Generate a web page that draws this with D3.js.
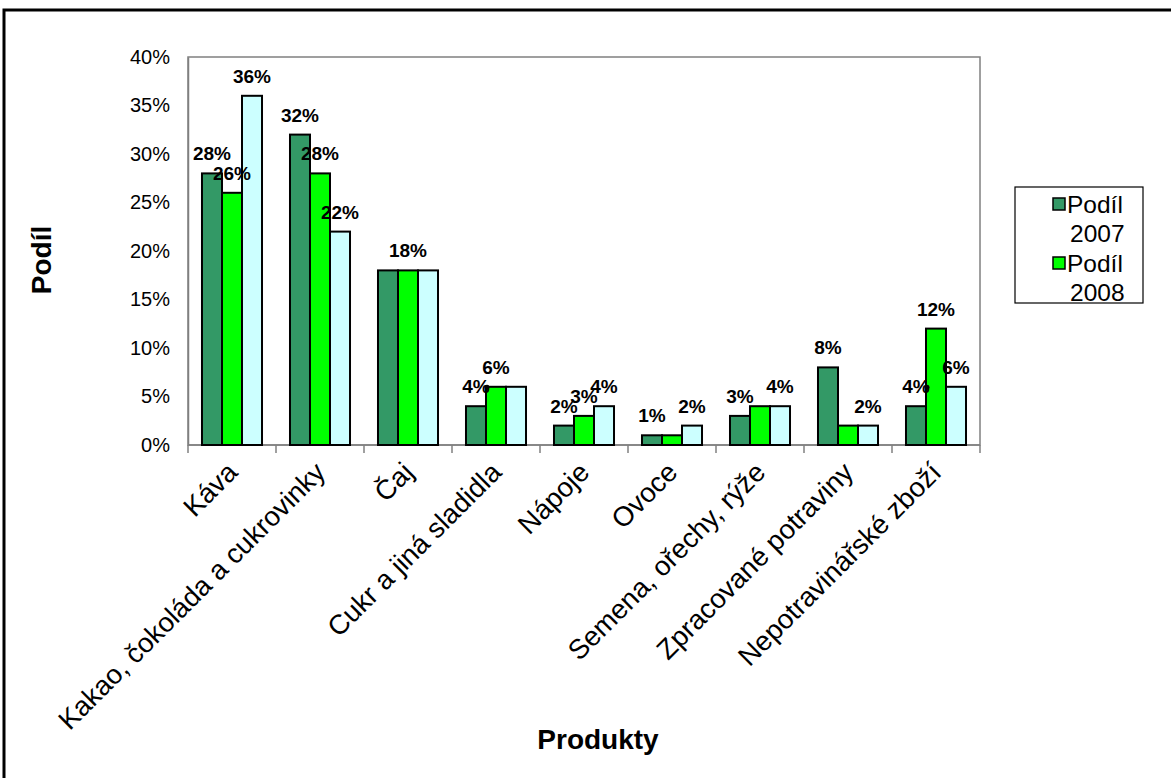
<!DOCTYPE html>
<html>
<head>
<meta charset="utf-8">
<script src="https://cdn.jsdelivr.net/npm/d3@7"></script>
<style>
  html, body { margin: 0; padding: 0; background: #fff; }
  svg { display: block; }
  text { font-family: "Liberation Sans", Arial, sans-serif; fill: #000; }
</style>
</head>
<body>
<svg id="chart" width="1171" height="778"></svg>
<script>
// Product categories
const categories = [
  "Káva",
  "Kakao, čokoláda a cukrovinky",
  "Čaj",
  "Cukr a jiná sladidla",
  "Nápoje",
  "Ovoce",
  "Semena, ořechy, rýže",
  "Zpracované potraviny",
  "Nepotravinářské zboží"
];

// Shares per series
const share2007 = [0.28, 0.32, 0.18, 0.04, 0.02, 0.01, 0.03, 0.08, 0.04];
const share2008 = [0.26, 0.28, 0.18, 0.06, 0.03, 0.01, 0.04, 0.02, 0.12];
const share3    = [0.36, 0.22, 0.18, 0.06, 0.04, 0.02, 0.04, 0.02, 0.06];

// Which bars carry a value label (1 = shown)
const labels2007 = [1, 1, 0, 1, 1, 1, 1, 1, 1];
const labels2008 = [1, 1, 1, 1, 1, 0, 0, 0, 1];
const labels3    = [1, 1, 0, 0, 1, 1, 1, 1, 1];

// Labels that carry a small leader dot on their right side
const dots2007 = [0, 0, 0, 1, 0, 0, 0, 0, 1];
const dots2008 = [0, 0, 0, 0, 0, 0, 0, 0, 0];
const dots3    = [0, 0, 0, 0, 0, 0, 0, 0, 0];

const seriesColors = ["#339966", "#00ff00", "#ccffff"];
const legendNames = [["Podíl", "2007"], ["Podíl", "2008"]];

const yTicks = [0, 0.05, 0.10, 0.15, 0.20, 0.25, 0.30, 0.35, 0.40];

const series = [
  { values: share2007, labels: labels2007, dots: dots2007, color: seriesColors[0] },
  { values: share2008, labels: labels2008, dots: dots2008, color: seriesColors[1] },
  { values: share3,    labels: labels3,    dots: dots3,    color: seriesColors[2] }
];

const svg = d3.select("#chart");

// Outer chart frame
svg.append("rect")
  .attr("x", 4).attr("y", 10)
  .attr("width", 1300).attr("height", 900)
  .attr("fill", "#fff")
  .attr("stroke", "#000").attr("stroke-width", 3);

const plot = { left: 188, right: 980, top: 57, bottom: 445 };

const x0 = d3.scaleBand()
  .domain(categories)
  .range([plot.left, plot.right])
  .paddingInner(0.318)
  .paddingOuter(0.159);

const xCat = d3.scaleBand()
  .domain(categories)
  .range([plot.left, plot.right]);

const x1 = d3.scaleBand()
  .domain(d3.range(series.length))
  .range([0, x0.bandwidth()]);

const y = d3.scaleLinear().domain([0, 0.40]).range([plot.bottom, plot.top]);

// Plot area outline
svg.append("rect")
  .attr("x", plot.left).attr("y", plot.top)
  .attr("width", plot.right - plot.left)
  .attr("height", plot.bottom - plot.top)
  .attr("fill", "#fff")
  .attr("stroke", "#808080").attr("stroke-width", 1.5);

// Y axis
const yAxis = d3.axisLeft(y)
  .tickValues(yTicks)
  .tickFormat(d3.format(".0%"))
  .tickSize(0)
  .tickPadding(18);

const gy = svg.append("g")
  .attr("transform", `translate(${plot.left},0)`)
  .call(yAxis);
gy.select(".domain").attr("stroke", "#808080").attr("stroke-width", 1.5);
gy.selectAll("text")
  .attr("font-size", 20)
  .attr("font-family", "Liberation Sans, Arial, sans-serif")
  .attr("fill", "#000");

// X axis with ticks at category boundaries
const gx = svg.append("g")
  .attr("transform", `translate(0,${plot.bottom})`);
gx.append("line")
  .attr("x1", plot.left).attr("x2", plot.right)
  .attr("stroke", "#808080").attr("stroke-width", 1.5);
const boundaries = categories.map(c => xCat(c)).concat([plot.right]);
gx.selectAll("line.tick")
  .data(boundaries)
  .join("line")
  .attr("class", "tick")
  .attr("x1", d => d).attr("x2", d => d)
  .attr("y1", 0).attr("y2", 8)
  .attr("stroke", "#808080").attr("stroke-width", 1.5);

// Category labels, rotated
svg.append("g").selectAll("text")
  .data(categories)
  .join("text")
  .attr("transform", d => `translate(${xCat(d) + xCat.bandwidth() / 2 + 7},474) rotate(-45)`)
  .attr("text-anchor", "end")
  .attr("font-size", 27.5)
  .text(d => d);

// Bars
const groups = svg.append("g").selectAll("g")
  .data(series)
  .join("g")
  .attr("fill", d => d.color);

groups.selectAll("rect")
  .data((s, si) => s.values.map((v, i) => ({ v, i, si })))
  .join("rect")
  .attr("x", d => x0(categories[d.i]) + x1(d.si))
  .attr("y", d => y(d.v))
  .attr("width", x1.bandwidth())
  .attr("height", d => y(0) - y(d.v))
  .attr("stroke", "#000")
  .attr("stroke-width", 2);

// Value labels
const fmt = d3.format(".0%");
const labelData = series.flatMap((s, si) =>
  s.values.map((v, i) => ({ v, i, si, show: s.labels[i], dot: s.dots[i] }))
).filter(d => d.show);

const labelX = d => x0(categories[d.i]) + x1(d.si) + x1.bandwidth() / 2;

const lg = svg.append("g");
lg.selectAll("text")
  .data(labelData)
  .join("text")
  .attr("x", labelX)
  .attr("y", d => y(d.v) - 13)
  .attr("text-anchor", "middle")
  .attr("font-size", 19)
  .attr("font-weight", "bold")
  .text(d => fmt(d.v));

lg.selectAll("circle")
  .data(labelData.filter(d => d.dot))
  .join("circle")
  .attr("cx", d => labelX(d) + 11)
  .attr("cy", d => y(d.v) - 19)
  .attr("r", 2.5)
  .attr("fill", "#000");

// Axis titles
svg.append("text")
  .attr("x", 598).attr("y", 749)
  .attr("text-anchor", "middle")
  .attr("font-size", 28)
  .attr("font-weight", "bold")
  .text("Produkty");

svg.append("text")
  .attr("transform", "translate(51,260) rotate(-90)")
  .attr("text-anchor", "middle")
  .attr("font-size", 28)
  .attr("font-weight", "bold")
  .text("Podíl");

// Legend
const legend = svg.append("g").attr("transform", "translate(1015,187)");
legend.append("rect")
  .attr("width", 128).attr("height", 116)
  .attr("fill", "#fff")
  .attr("stroke", "#000").attr("stroke-width", 1.2);

legendNames.forEach((lines, k) => {
  const g = legend.append("g").attr("transform", `translate(0,${k * 59})`);
  g.append("rect")
    .attr("x", 38).attr("y", 11)
    .attr("width", 12).attr("height", 12)
    .attr("fill", seriesColors[k])
    .attr("stroke", "#000").attr("stroke-width", 1.5);
  g.append("text")
    .attr("x", 52).attr("y", 26)
    .attr("font-size", 24.5)
    .text(lines[0]);
  g.append("text")
    .attr("x", 55).attr("y", 55)
    .attr("font-size", 24.5)
    .text(lines[1]);
});
</script>
</body>
</html>
